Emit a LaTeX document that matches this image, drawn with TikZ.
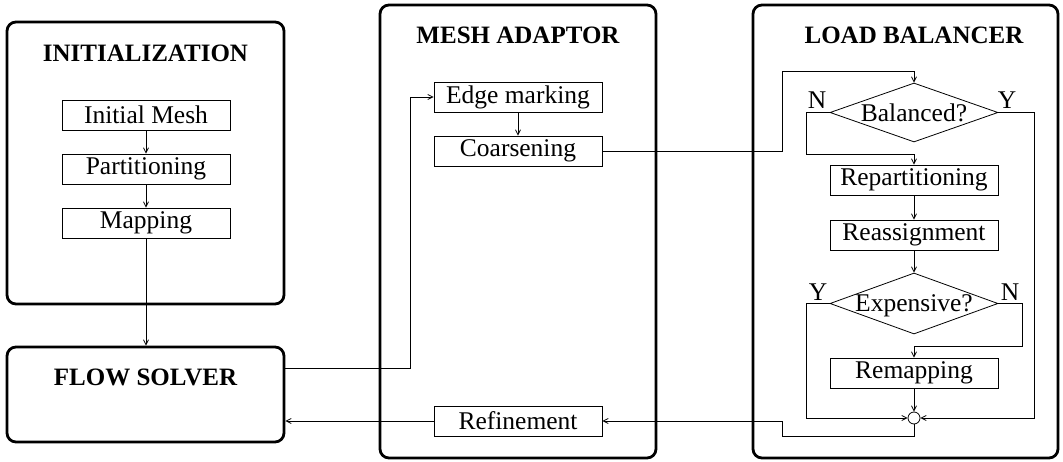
\documentclass[tikz,border=0pt]{standalone}
\usepackage{fontspec}
\setmainfont{Liberation Serif}
\usetikzlibrary{shapes.geometric,arrows.meta}
\newcommand\dtxt[2]{\smash{\raisebox{#1}{\makebox[0pt]{#2}}}}
\tikzset{
  outerbox/.style={draw, line width=2.8pt, rounded corners=9pt, inner sep=0pt},
  ttl/.style={font=\fontsize{25}{28}\selectfont\bfseries, inner sep=0pt},
  stepbox/.style={draw, line width=0.8pt, minimum width=168pt, minimum height=30pt, inner sep=0pt, font=\fontsize{25.5}{28}\selectfont},
  decide/.style={draw, shape=diamond, line width=0.8pt, minimum width=168pt, minimum height=60pt, inner sep=0pt, font=\fontsize{25.5}{28}\selectfont},
  joint/.style={draw, circle, line width=0.8pt, minimum size=12pt, inner sep=0pt},
  lbl/.style={font=\fontsize{25.5}{28}\selectfont, inner sep=0pt},
  conn/.style={line width=0.8pt},
  arr/.style={conn, -{Straight Barb[length=5pt,width=5pt]}}
}
\begin{document}
\begin{tikzpicture}[x=1pt,y=-1pt]
\useasboundingbox (0,0) rectangle (1063,462);
% outer boxes
\node[outerbox, minimum width=277pt, minimum height=282pt] (init) at (145.5,163) {};
\node[outerbox, minimum width=277pt, minimum height=95pt] (fs) at (145.5,394.5) {};
\node[outerbox, minimum width=276pt, minimum height=453pt] (mesh) at (518,231.5) {};
\node[outerbox, minimum width=305pt, minimum height=453pt] (lb) at (905.5,231.5) {};
% titles
\node[ttl] (tinit) at (145.5,53) {INITIALIZATION};
\node[ttl] (tfs) at (145.5,377) {FLOW SOLVER};
\node[ttl] (tmesh) at (518,35) {MESH ADAPTOR};
\node[ttl] (tlb) at (914,35) {LOAD BALANCER};
% initialization
\node[stepbox] (im) at (146,115) {Initial Mesh};
\node[stepbox] (pa) at (146,169) {Partitioning};
\node[stepbox] (ma) at (146,223) {Mapping};
% mesh adaptor
\node[stepbox] (em) at (518,97) {Edge marking};
\node[stepbox] (co) at (518,151) {Coarsening};
\node[stepbox] (re) at (518,421) {Refinement};
% load balancer
\node[decide, minimum height=59pt] (bal) at (914,112.5) {\dtxt{-9pt}{Balanced?}};
\node[stepbox] (rep) at (914,180) {Repartitioning};
\node[stepbox] (rea) at (914,235) {Reassignment};
\node[decide, minimum height=61pt] (exp) at (914,303.5) {\dtxt{-8.5pt}{Expensive?}};
\node[stepbox] (rem) at (914,373) {Remapping};
\node[joint] (ci) at (914,418) {};
% labels
\node[lbl] (lbn) at (817,100) {N};
\node[lbl] (lby) at (1007,100) {Y};
\node[lbl] (lexy) at (818,292) {Y};
\node[lbl] (lexn) at (1010,292) {N};
% coordinates
\coordinate (c1) at (782,71);
\coordinate (c2) at (806,154);
\coordinate (c3) at (1034,418);
\coordinate (c4) at (806,418);
\coordinate (c5) at (1022,346);
\coordinate (c6) at (914,436);
\coordinate (c7) at (782,421);
\coordinate (c8) at (410,368);
% connectors
\draw[arr] (im) -- (pa);
\draw[arr] (pa) -- (ma);
\draw[arr] (ma) -- (ma |- fs.north);
\draw[arr] (fs.east |- c8) -- (c8) |- (em.west);
\draw[arr] (em) -- (co);
\draw[arr] (co.east) -| (c1) -| (bal.north);
\draw[arr] (bal.west) -| (c2) -| (rep.north);
\draw[arr] (bal.east) -| (c3) -- (ci.east);
\draw[arr] (rep) -- (rea);
\draw[arr] (rea) -- (exp.north);
\draw[arr] (exp.west) -| (c4) -- (ci.west);
\draw[arr] (exp.east) -| (c5) -| (rem.north);
\draw[arr] (rem) -- (ci.north);
\draw[arr] (ci.south) -- (c6) -| (c7) -- (re.east);
\draw[arr] (re.west) -- (re.west -| fs.east);
\end{tikzpicture}
\end{document}
